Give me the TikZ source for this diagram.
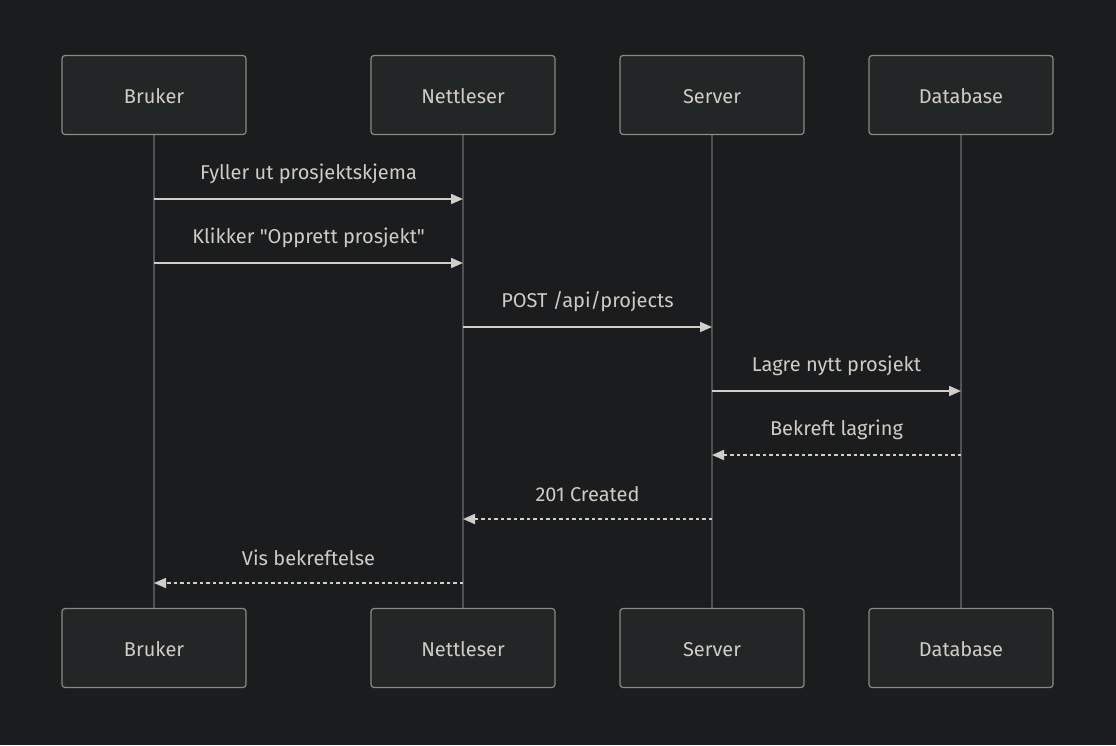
\documentclass[tikz,border=0pt]{standalone}
\usepackage{fontspec}
\setmainfont{Fira Sans}[Ligatures=TeXOff]
\usepackage{xcolor}
\usepackage{tikz}
\usetikzlibrary{arrows.meta}

\definecolor{bg}{HTML}{1B1C1E}
\definecolor{boxfill}{HTML}{232627}
\definecolor{boxline}{HTML}{8C8882}
\definecolor{txt}{HTML}{D0CCC4}
\definecolor{lifeline}{HTML}{4E5356}
\definecolor{msg}{HTML}{D2CEC7}

\tikzset{
    actor/.style={draw=boxline, fill=boxfill, line width=1.2pt, rounded corners=3pt,
        minimum width=184pt, minimum height=79pt, text=txt, text height=20pt, text depth=4pt,
        font=\fontsize{20}{22}\selectfont},
    msgline/.style={draw=msg, line width=1.8pt, -{Triangle[length=12pt,width=10pt]}},
    reply/.style={msgline, dash pattern=on 3.5pt off 3pt},
    msglabel/.style={text=txt, font=\fontsize{20}{22}\selectfont}
}

\begin{document}
\begin{tikzpicture}[x=1pt,y=-1pt]
    \useasboundingbox[fill=bg] (0,0) rectangle (1116,745);

    % lifelines
    \draw[lifeline, line width=1.6pt] (154,134) -- (154,608);
    \draw[lifeline, line width=1.6pt] (463,134) -- (463,608);
    \draw[lifeline, line width=1.6pt] (712,134) -- (712,608);
    \draw[lifeline, line width=1.6pt] (961,134) -- (961,608);

    \node[actor] (u1) at (154,95) {Bruker};
    \node[actor] (b1) at (463,95) {Nettleser};
    \node[actor] (s1) at (712,95) {Server};
    \node[actor] (d1) at (961,95) {Database};
    \node[actor] (u2) at (154,648) {Bruker};
    \node[actor] (b2) at (463,648) {Nettleser};
    \node[actor] (s2) at (712,648) {Server};
    \node[actor] (d2) at (961,648) {Database};

    \coordinate (u-m1) at (154,199); \coordinate (b-m1) at (463,199);
    \coordinate (u-m2) at (154,263); \coordinate (b-m2) at (463,263);
    \coordinate (b-m3) at (463,327); \coordinate (s-m3) at (712,327);
    \coordinate (s-m4) at (712,391); \coordinate (d-m4) at (961,391);
    \coordinate (d-m5) at (961,455); \coordinate (s-m5) at (712,455);
    \coordinate (s-m6) at (712,519); \coordinate (b-m6) at (463,519);
    \coordinate (b-m7) at (463,583); \coordinate (u-m7) at (154,583);

    \draw[msgline] (u-m1) -- (b-m1);
    \draw[msgline] (u-m2) -- (b-m2);
    \draw[msgline] (b-m3) -- (s-m3);
    \draw[msgline] (s-m4) -- (d-m4);
    \draw[reply] (d-m5) -- (s-m5);
    \draw[reply] (s-m6) -- (b-m6);
    \draw[reply] (b-m7) -- (u-m7);

    \node[msglabel] (l1) at (308.5,174) {Fyller ut prosjektskjema};
    \node[msglabel] (l2) at (308.5,238) {Klikker "Opprett prosjekt"};
    \node[msglabel] (l3) at (587.5,302) {POST /api/projects};
    \node[msglabel] (l4) at (836.5,366) {Lagre nytt prosjekt};
    \node[msglabel] (l5) at (836.5,430) {Bekreft lagring};
    \node[msglabel] (l6) at (587.5,494) {201 Created};
    \node[msglabel] (l7) at (308.5,558) {Vis bekreftelse};
\end{tikzpicture}
\end{document}
